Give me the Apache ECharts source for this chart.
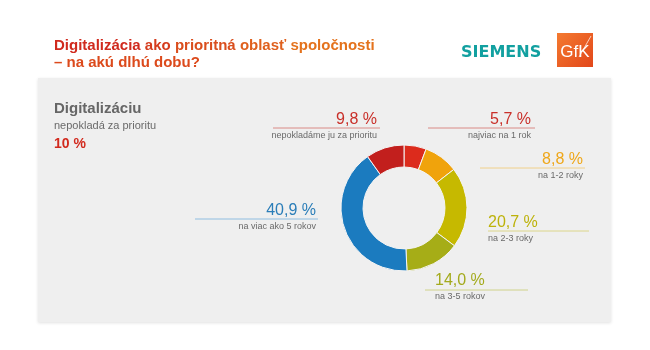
<!DOCTYPE html>
<html>
<head>
<meta charset="utf-8">
<script src="https://cdn.jsdelivr.net/npm/echarts@6/dist/echarts.min.js"></script>
<style>
  html, body { margin: 0; padding: 0; background: #ffffff; }
  #chart { width: 650px; height: 350px; }
</style>
</head>
<body>
<div id="chart"></div>
<script>
// Survey answers, clockwise from 12 o'clock
const categories = ['najviac na 1 rok', 'na 1-2 roky', 'na 2-3 roky', 'na 3-5 rokov', 'na viac ako 5 rokov', 'nepokladáme ju za prioritu'];
const values = [5.7, 8.8, 20.7, 14.0, 40.9, 9.8];
const sliceColors = ['#dc2b1c', '#f0a30c', '#c6b900', '#a6ad17', '#1b7bbf', '#c21f1d'];
const lineColors = ['#d98a86', '#f0d08a', '#dcd68a', '#cfd28a', '#8fbde0', '#d98a86'];
const labelTextColors = ['#c9302a', '#efa71a', '#bdb20a', '#a3aa1c', '#2a7db8', '#c9302a'];

// Annotation anchors: number baseline, alignment, underline extent
const annotations = [
  { x: 531, y: 125, align: 'right', l1: 428, l2: 535, ly: 128 },
  { x: 583, y: 165, align: 'right', l1: 480, l2: 585, ly: 168 },
  { x: 488, y: 228, align: 'left',  l1: 488, l2: 589, ly: 231 },
  { x: 435, y: 286, align: 'left',  l1: 425, l2: 528, ly: 290 },
  { x: 316, y: 216, align: 'right', l1: 195, l2: 318, ly: 219 },
  { x: 377, y: 125, align: 'right', l1: 273, l2: 380, ly: 128 }
];

const headlineWords = ['Digitalizácia', 'ako', 'prioritná', 'oblasť', 'spoločnosti'];
const headline2 = '– na akú dlhú dobu?';
const sideTitle = 'Digitalizáciu';
const sideSub = 'nepokladá za prioritu';
const sideValue = 10;

const fmt = v => v.toFixed(1).replace('.', ',') + ' %';
const FONT = '"Liberation Sans", Arial, sans-serif';

// text placed by its baseline (top-aligned box shifted by the ascent)
function txt(x, baseline, text, size, weight, fill, align, family) {
  return {
    type: 'text', x: x, y: baseline - Math.round(size * 0.82),
    style: { text: text, font: (weight ? weight + ' ' : '') + size + 'px ' + (family || FONT), fill: fill,
             align: align || 'left', verticalAlign: 'top' }
  };
}

// red-to-orange headline, one colour step per word
const mix = (a, b, t) => {
  const pa = a.match(/\w\w/g).map(h => parseInt(h, 16)), pb = b.match(/\w\w/g).map(h => parseInt(h, 16));
  return '#' + pa.map((c, k) => Math.round(c + (pb[k] - c) * t).toString(16).padStart(2, '0')).join('');
};
const rich = {};
headlineWords.forEach((w, i) => {
  rich['w' + i] = { fill: mix('d02a1e', 'e4721c', i / (headlineWords.length - 1)), font: 'bold 15px ' + FONT };
});
const headlineText = headlineWords.map((w, i) => '{w' + i + '|' + w + '}').join('{w0| }');

const graphics = [
  // grey content panel
  { type: 'rect', z: -10, shape: { x: 38, y: 78, width: 573, height: 244 },
    style: { fill: '#efefef', shadowBlur: 3, shadowColor: 'rgba(0,0,0,0.12)', shadowOffsetY: 1 } },
  // headline
  { type: 'text', x: 54, y: 38, style: { text: headlineText, rich: rich, font: 'bold 15px ' + FONT, verticalAlign: 'top' } },
  txt(54, 67, headline2, 15, 'bold', '#dc4a1c'),
  // logos
  txt(461, 58, 'SIEMENS', 16, 'bold', '#12a0a0', 'left', '"DejaVu Sans", sans-serif'),
  { type: 'rect', shape: { x: 557, y: 33, width: 36, height: 34 },
    style: { fill: { type: 'linear', x: 0, y: 0, x2: 1, y2: 1, colorStops: [{ offset: 0, color: '#f47a30' }, { offset: 1, color: '#e2471a' }] } } },
  txt(575, 58, 'GfK', 17, '', '#ffffff', 'center'),
  { type: 'line', shape: { x1: 579, y1: 57, x2: 591, y2: 36 }, style: { stroke: 'rgba(255,255,255,0.7)', lineWidth: 1 } },
  // side note
  txt(54, 113, sideTitle, 15, 'bold', '#666666'),
  txt(54, 129, sideSub, 11, '', '#6a6a6a'),
  txt(54, 148, sideValue + ' %', 14, 'bold', '#d22a1e')
];

values.forEach((v, i) => {
  const a = annotations[i];
  graphics.push({ type: 'line', shape: { x1: a.l1, y1: a.ly, x2: a.l2, y2: a.ly }, style: { stroke: lineColors[i], lineWidth: 1 } });
  graphics.push(txt(a.x, a.y, fmt(v), 16, '', labelTextColors[i], a.align));
  graphics.push(txt(a.x, a.y + 13, categories[i], 9, '', '#6a6a6a', a.align));
});

const chart = echarts.init(document.getElementById('chart'), null, { renderer: 'canvas' });
chart.setOption({
  backgroundColor: '#ffffff',
  animation: false,
  graphic: { elements: graphics },
  series: [{
    type: 'pie',
    center: [404, 208],
    radius: [41, 63],
    startAngle: 90,
    clockwise: true,
    silent: true,
    label: { show: false },
    labelLine: { show: false },
    itemStyle: { borderColor: '#f4f4f4', borderWidth: 1 },
    data: values.map((v, i) => ({ name: categories[i], value: v, itemStyle: { color: sliceColors[i] } }))
  }]
});
</script>
</body>
</html>
